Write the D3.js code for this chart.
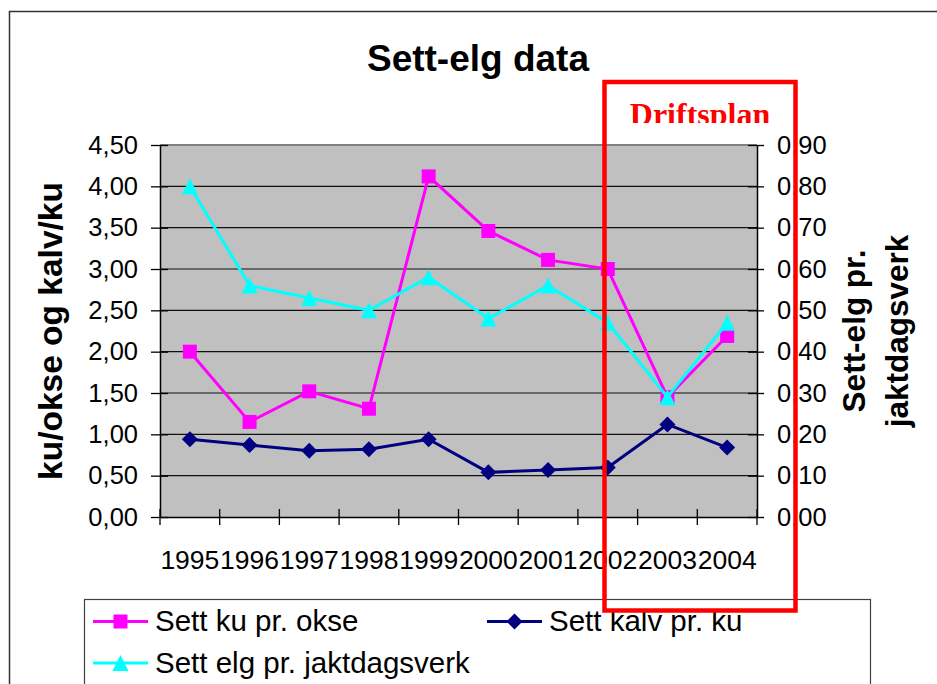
<!DOCTYPE html>
<html>
<head>
<meta charset="utf-8">
<script src="https://cdn.jsdelivr.net/npm/d3@7"></script>
<style>
  body { margin: 0; background: #fff; }
  svg { display: block; font-family: "Liberation Sans", Arial, sans-serif; }
</style>
</head>
<body>
<div class="chart"></div>
<script>
// data
var years      = ["1995", "1996", "1997", "1998", "1999", "2000", "2001", "2002", "2003", "2004"];
var kuPrOkse   = [2.00, 1.15, 1.52, 1.31, 4.12, 3.46, 3.11, 3.00, 1.45, 2.19];
var kalvPrKu   = [0.94, 0.87, 0.80, 0.82, 0.94, 0.54, 0.57, 0.60, 1.12, 0.84];
var elgPrDagsv = [0.80, 0.56, 0.53, 0.50, 0.58, 0.48, 0.56, 0.47, 0.29, 0.47];
var leftTicks  = [0, 0.5, 1, 1.5, 2, 2.5, 3, 3.5, 4, 4.5];
var rightTicks = [0, 0.1, 0.2, 0.3, 0.4, 0.5, 0.6, 0.7, 0.8, 0.9];

var W = 937, H = 684;
var plot = {left: 160, right: 757, top: 145, bottom: 517};

var no = d3.formatLocale({decimal: ",", thousands: " ", grouping: [3], currency: ["", " kr"]});
var fmt = no.format(".2f");

var svg = d3.select(".chart").append("svg")
    .attr("width", W)
    .attr("height", H);

// outer chart border
svg.append("rect")
    .attr("x", 9.5).attr("y", 11.5)
    .attr("width", 1000).attr("height", 1000)
    .attr("fill", "#fff")
    .attr("stroke", "#333")
    .attr("stroke-width", 1.5);

var x = d3.scaleBand()
    .domain(years)
    .range([plot.left, plot.right])
    .padding(0);

var yL = d3.scaleLinear().domain([0, 4.5]).range([plot.bottom, plot.top]);
var yR = d3.scaleLinear().domain([0, 0.9]).range([plot.bottom, plot.top]);

// plot area
svg.append("rect")
    .attr("x", plot.left).attr("y", plot.top)
    .attr("width", plot.right - plot.left)
    .attr("height", plot.bottom - plot.top)
    .attr("fill", "#c0c0c0");

svg.append("g").selectAll("line")
    .data(leftTicks.slice(1))
    .enter().append("line")
    .attr("x1", plot.left).attr("x2", plot.right)
    .attr("y1", function (d) { return yL(d); })
    .attr("y2", function (d) { return yL(d); })
    .attr("stroke", function (d, i) { return i == leftTicks.length - 2 ? "#808080" : "#111"; })
    .attr("stroke-width", function (d, i) { return i == leftTicks.length - 2 ? 2 : 1.2; });

// left axis
var gL = svg.append("g")
    .attr("transform", "translate(" + plot.left + ",0)")
    .call(d3.axisLeft(yL).tickValues(leftTicks).tickFormat(fmt).tickSizeInner(9).tickSizeOuter(0).tickPadding(13));
gL.selectAll(".tick line").attr("x1", 8).attr("stroke", "#000").attr("stroke-width", 1.3);
gL.select(".domain").attr("stroke", "#000").attr("stroke-width", 1.5);
gL.selectAll("text").attr("font-size", 25.5).attr("font-family", "Liberation Sans").attr("fill", "#000");

// right axis
var gR = svg.append("g")
    .attr("transform", "translate(" + plot.right + ",0)")
    .call(d3.axisRight(yR).tickValues(rightTicks).tickFormat(fmt).tickSizeInner(7).tickSizeOuter(0).tickPadding(13));
gR.selectAll(".tick line").attr("x1", -9).attr("stroke", "#000").attr("stroke-width", 1.3);
gR.select(".domain").attr("stroke", "#000").attr("stroke-width", 1.5);
gR.selectAll("text").attr("font-size", 25.5).attr("font-family", "Liberation Sans").attr("fill", "#000");

// bottom axis: labels centred in each band, ticks on the band edges
var gB = svg.append("g")
    .attr("transform", "translate(0," + plot.bottom + ")")
    .call(d3.axisBottom(x).tickSize(0).tickPadding(33));
gB.select(".domain").attr("stroke", "#000").attr("stroke-width", 1.5);
gB.selectAll("text").attr("font-size", 26.5).attr("font-family", "Liberation Sans").attr("fill", "#000");

var edges = years.map(function (d) { return x(d); }).concat([x.range()[1]]);
svg.append("g").selectAll("line")
    .data(edges)
    .enter().append("line")
    .attr("x1", function (d) { return d; }).attr("x2", function (d) { return d; })
    .attr("y1", plot.bottom - 8).attr("y2", plot.bottom + 8)
    .attr("stroke", "#000").attr("stroke-width", 1.3);

// markers
var diamond = {
    draw: function (ctx, size) {
        var r = Math.sqrt(size) / 2;
        ctx.moveTo(0, -r); ctx.lineTo(r, 0); ctx.lineTo(0, r); ctx.lineTo(-r, 0); ctx.closePath();
    }
};
var triangle = {
    draw: function (ctx, size) {
        var r = Math.sqrt(size) / 2;
        ctx.moveTo(0, -r); ctx.lineTo(r, r); ctx.lineTo(-r, r); ctx.closePath();
    }
};
var square = {
    draw: function (ctx, size) {
        var r = Math.sqrt(size) / 2;
        ctx.rect(-r, -r, 2 * r, 2 * r);
    }
};

var series = [
    {name: "Sett ku pr. okse", values: kuPrOkse, y: yL, color: "#ff00ff", sym: square, size: 14 * 14},
    {name: "Sett kalv pr. ku", values: kalvPrKu, y: yL, color: "#000080", sym: diamond, size: 16 * 16},
    {name: "Sett elg pr. jaktdagsverk", values: elgPrDagsv, y: yR, color: "#00ffff", sym: triangle, size: 16 * 16}
];

series.forEach(function (s) {
    var line = d3.line()
        .x(function (d, i) { return x(years[i]) + x.bandwidth() / 2; })
        .y(function (d) { return s.y(d); });

    svg.append("path")
        .datum(s.values)
        .attr("d", line)
        .attr("fill", "none")
        .attr("stroke", s.color)
        .attr("stroke-width", 3);

    svg.append("g").selectAll("path")
        .data(s.values)
        .enter().append("path")
        .attr("transform", function (d, i) {
            return "translate(" + (x(years[i]) + x.bandwidth() / 2) + "," + s.y(d) + ")";
        })
        .attr("d", d3.symbol().type(s.sym).size(s.size))
        .attr("fill", s.color);
});

// title
svg.append("text")
    .attr("x", 478).attr("y", 71)
    .attr("text-anchor", "middle")
    .attr("font-size", 37).attr("font-weight", "bold")
    .text("Sett-elg data");

// axis titles
svg.append("text")
    .attr("transform", "translate(62," + (plot.top + plot.bottom) / 2 + ") rotate(-90)")
    .attr("text-anchor", "middle")
    .attr("font-size", 33.5).attr("font-weight", "bold")
    .text("ku/okse og kalv/ku");

var rt = svg.append("text")
    .attr("transform", "translate(865," + (plot.top + plot.bottom) / 2 + ") rotate(-90)")
    .attr("text-anchor", "middle")
    .attr("font-size", 31.5).attr("font-weight", "bold");
rt.append("tspan").attr("x", 0).attr("y", 0).text("Sett-elg pr.");
rt.append("tspan").attr("x", 0).attr("y", 43).text("jaktdagsverk");

// legend
svg.append("rect")
    .attr("x", 84.5).attr("y", 599.5)
    .attr("width", 786).attr("height", 200)
    .attr("fill", "#fff")
    .attr("stroke", "#404040").attr("stroke-width", 1.2);

var legendPos = [
    {lx: 93, ly: 621.5},
    {lx: 487, ly: 621.5},
    {lx: 93, ly: 663}
];

series.forEach(function (s, i) {
    var p = legendPos[i];
    var g = svg.append("g").attr("transform", "translate(" + p.lx + "," + p.ly + ")");
    g.append("line")
        .attr("x1", 0).attr("x2", 55)
        .attr("stroke", s.color).attr("stroke-width", 3);
    g.append("path")
        .attr("transform", "translate(27.5,0)")
        .attr("d", d3.symbol().type(s.sym).size(s.size))
        .attr("fill", s.color);
    g.append("text")
        .attr("x", 62).attr("y", 9.5)
        .attr("font-size", 29.5)
        .text(s.name);
});

// red "Driftsplan" frame
svg.append("clipPath").attr("id", "dpclip")
    .append("rect").attr("x", 0).attr("y", 0).attr("width", W).attr("height", 123);

svg.append("text")
    .attr("x", 700).attr("y", 125)
    .attr("text-anchor", "middle")
    .attr("clip-path", "url(#dpclip)")
    .attr("font-family", "Liberation Serif")
    .attr("font-size", 32).attr("font-weight", "bold")
    .attr("fill", "#ff0000")
    .text("Driftsplan");

svg.append("rect")
    .attr("x", 604.5).attr("y", 82)
    .attr("width", 191).attr("height", 528.5)
    .attr("fill", "none")
    .attr("stroke", "#ff0000").attr("stroke-width", 4.5);
</script>
</body>
</html>
